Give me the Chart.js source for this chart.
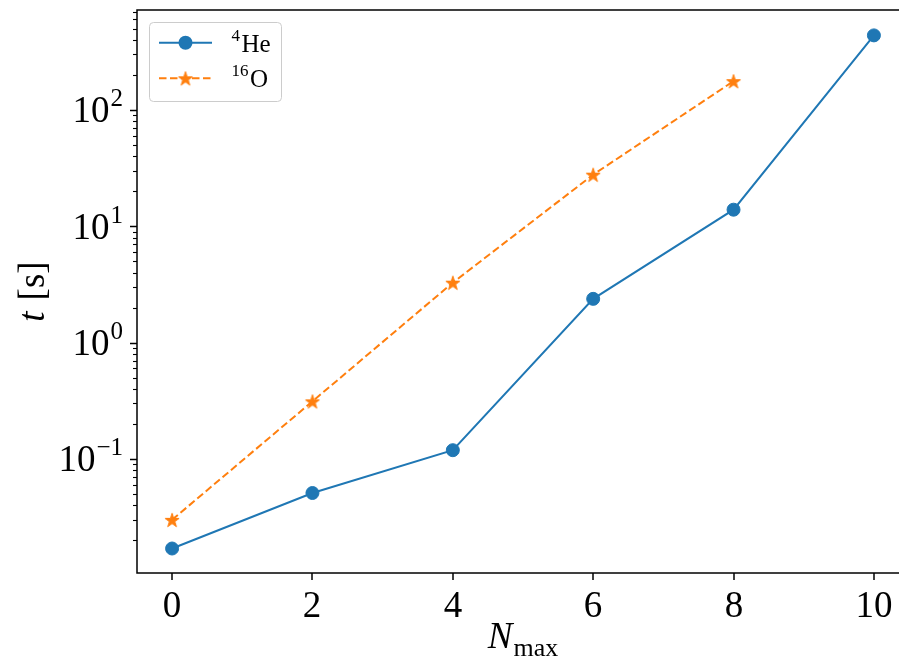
<!DOCTYPE html>
<html>
<head>
<meta charset="utf-8">
<title>t vs Nmax</title>
<script src="https://cdn.jsdelivr.net/npm/chart.js"></script>
<style>
    html, body { margin: 0; padding: 0; overflow: hidden; background: #fff; }
    #wrap { width: 920px; height: 656px; }
</style>
</head>
<body>
<div id="wrap"><canvas id="chart" width="920" height="656"></canvas></div>
<script>
// data
const nmaxHe = [0, 2, 4, 6, 8, 10];
const timesHe = [0.017, 0.051, 0.119, 2.38, 13.9, 438];
const nmaxO = [0, 2, 4, 6, 8];
const timesO = [0.030, 0.313, 3.28, 27.8, 177];
const seriesNames = ['4He', '16O'];
const legendSup = ['4', '16'];
const legendBase = ['He', 'O'];
const xTickValues = [0, 2, 4, 6, 8, 10];
const yTickValues = [0.1, 1, 10, 100];
const yTickBase = ['10', '10', '10', '10'];
const yTickExp = ['\u22121', '0', '1', '2'];

const BLUE = '#1f77b4';
const ORANGE = '#ff7f0e';
const FONT = '"Liberation Serif", "DejaVu Serif", serif';

// filled five point star, like matplotlib's '*' marker
function makeStar(r, color) {
    const c = document.createElement('canvas');
    const s = Math.ceil(r * 2 + 3);
    c.width = s; c.height = s;
    const g = c.getContext('2d');
    g.translate(s / 2, s / 2 + 0.8);
    g.beginPath();
    for (let i = 0; i < 10; i++) {
        const rad = i % 2 ? r * 0.382 : r;
        const a = -Math.PI / 2 + i * Math.PI / 5;
        g.lineTo(rad * Math.cos(a), rad * Math.sin(a));
    }
    g.closePath();
    g.fillStyle = color;
    g.fill();
    g.lineJoin = 'round';
    g.lineWidth = 1;
    g.strokeStyle = color;
    g.stroke();
    return c;
}
const star = makeStar(7.4, ORANGE);

// draws runs of text with different size / offset / style
function drawRich(ctx, parts, x, y, align) {
    let w = 0;
    parts.forEach(p => {
        ctx.font = (p.italic ? 'italic ' : '') + p.size + 'px ' + FONT;
        p.w = ctx.measureText(p.t).width;
        w += p.w + (p.gap || 0);
    });
    let cx = align === 'right' ? x - w : align === 'center' ? x - w / 2 : x;
    ctx.textAlign = 'left';
    ctx.textBaseline = 'alphabetic';
    parts.forEach(p => {
        ctx.font = (p.italic ? 'italic ' : '') + p.size + 'px ' + FONT;
        cx += (p.gap || 0);
        ctx.fillText(p.t, cx, y + (p.dy || 0));
        cx += p.w;
    });
}

const axesPlugin = {
    id: 'mplAxes',
    afterDraw(chart) {
        const ctx = chart.ctx;
        const a = chart.chartArea;
        const xs = chart.scales.x, ys = chart.scales.y;
        ctx.save();
        ctx.strokeStyle = '#000';
        ctx.fillStyle = '#000';

        // y ticks, major and minor
        for (let e = -3; e <= 3; e++) {
            for (let m = 1; m <= 9; m++) {
                const v = m * Math.pow(10, e);
                if (v < ys.min || v > ys.max) continue;
                const py = Math.round(ys.getPixelForValue(v)) + 0.5;
                ctx.lineWidth = m === 1 ? 1.5 : 1.1;
                ctx.beginPath();
                ctx.moveTo(a.left, py);
                ctx.lineTo(a.left - (m === 1 ? 7 : 4), py);
                ctx.stroke();
            }
        }
        yTickValues.forEach((v, i) => {
            const py = ys.getPixelForValue(v);
            drawRich(ctx, [
                { t: yTickBase[i], size: 37 },
                { t: yTickExp[i], size: 25, dy: -16, gap: 1 }
            ], 123, py + 12.5, 'right');
        });

        // x ticks
        ctx.lineWidth = 1.5;
        xTickValues.forEach(v => {
            const px = Math.round(xs.getPixelForValue(v));
            ctx.beginPath();
            ctx.moveTo(px, a.bottom);
            ctx.lineTo(px, a.bottom + 7);
            ctx.stroke();
            drawRich(ctx, [{ t: String(v), size: 37 }], px, 617, 'center');
        });

        // spines
        ctx.lineWidth = 1.5;
        ctx.strokeRect(a.left, a.top, a.right - a.left, a.bottom - a.top);

        // axis titles
        drawRich(ctx, [
            { t: 'N', size: 37, italic: true },
            { t: 'max', size: 26, dy: 8, gap: 1 }
        ], (a.left + a.right) / 2, 648, 'center');
        ctx.save();
        ctx.translate(44, (a.top + a.bottom) / 2);
        ctx.rotate(-Math.PI / 2);
        drawRich(ctx, [
            { t: 't', size: 37, italic: true },
            { t: '[s]', size: 37, gap: 11 }
        ], 0, 0, 'center');
        ctx.restore();

        // legend
        const lx = 149.5, ly = 22.5, lw = 132, lh = 79;
        ctx.beginPath();
        ctx.roundRect(lx, ly, lw, lh, 4);
        ctx.fillStyle = 'rgba(255,255,255,0.8)';
        ctx.fill();
        ctx.strokeStyle = '#cccccc';
        ctx.lineWidth = 1;
        ctx.stroke();
        const rows = [42.7, 78.3];
        chart.data.datasets.forEach((ds, i) => {
            const ry = rows[i];
            ctx.strokeStyle = ds.borderColor;
            ctx.lineWidth = 2;
            ctx.setLineDash(ds.borderDash || []);
            ctx.beginPath();
            ctx.moveTo(159, ry);
            ctx.lineTo(212, ry);
            ctx.stroke();
            ctx.setLineDash([]);
            if (ds.pointStyle === 'circle') {
                ctx.fillStyle = ds.backgroundColor;
                ctx.beginPath();
                ctx.arc(185.5, ry, 7, 0, Math.PI * 2);
                ctx.fill();
            } else {
                ctx.drawImage(ds.pointStyle, 185.5 - ds.pointStyle.width / 2, ry - ds.pointStyle.height / 2);
            }
            ctx.fillStyle = '#000';
            drawRich(ctx, [
                { t: legendSup[i], size: 17, dy: -11 },
                { t: legendBase[i], size: 25, gap: 1.5 }
            ], 231.5, ry + 9, 'left');
        });
        ctx.restore();
    }
};

new Chart(document.getElementById('chart'), {
    type: 'line',
    data: {
        datasets: [
            {
                label: seriesNames[0],
                data: nmaxHe.map((x, i) => ({ x: x, y: timesHe[i] })),
                borderColor: BLUE,
                backgroundColor: BLUE,
                borderWidth: 2,
                pointStyle: 'circle',
                pointRadius: 6.5,
                pointHoverRadius: 6.5,
                pointBorderWidth: 1,
                tension: 0
            },
            {
                label: seriesNames[1],
                data: nmaxO.map((x, i) => ({ x: x, y: timesO[i] })),
                borderColor: ORANGE,
                backgroundColor: ORANGE,
                borderWidth: 2,
                borderDash: [7.5, 3.5],
                pointStyle: star,
                pointRadius: 7,
                pointHoverRadius: 7,
                tension: 0
            }
        ]
    },
    options: {
        responsive: false,
        animation: false,
        events: [],
        layout: { padding: { top: 10, right: 11, left: 0, bottom: 0 } },
        plugins: { legend: { display: false }, tooltip: { enabled: false } },
        scales: {
            x: {
                type: 'linear',
                min: -0.5,
                max: 10.5,
                ticks: { display: false, stepSize: 2, includeBounds: false },
                grid: { display: false },
                border: { display: false },
                afterFit(s) { s.height = 83; }
            },
            y: {
                type: 'logarithmic',
                min: 0.01047,
                max: 723.8,
                ticks: { display: false },
                grid: { display: false },
                border: { display: false },
                afterFit(s) { s.width = 137; }
            }
        }
    },
    plugins: [axesPlugin]
});
</script>
</body>
</html>
